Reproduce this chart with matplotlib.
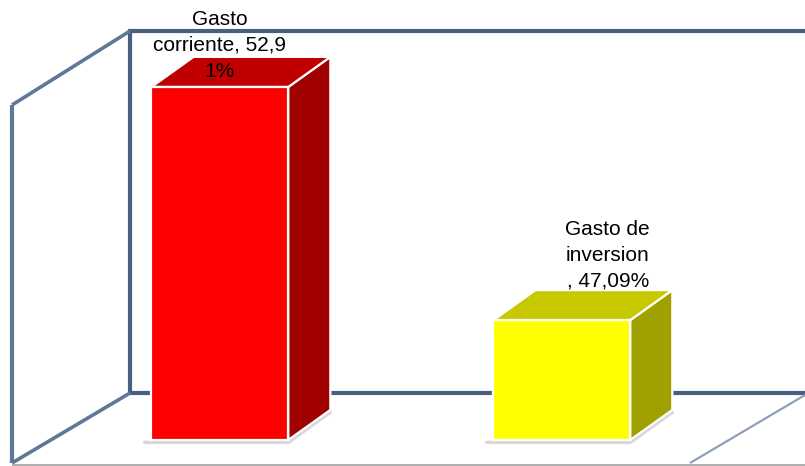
import matplotlib
matplotlib.use("Agg")
import matplotlib.pyplot as plt
from matplotlib.patches import Polygon
from matplotlib.lines import Line2D

plt.rcParams['font.family'] = ['Liberation Sans', 'DejaVu Sans']

# Data
categories = ["Gasto corriente", "Gasto de inversion"]
values = [52.91, 47.09]

# Styling
front_colors = ["#ff0000", "#ffff00"]
top_colors = ["#c00000", "#c8c800"]
side_colors = ["#a00000", "#a0a000"]
label_breaks = [[6, 15], [9, 9]]
label_offsets = [(0, 4.5), (33, 21)]  # points, relative to bar top centre

W, H = 805, 466
fig = plt.figure(figsize=(W / 100, H / 100), dpi=100)
ax = fig.add_axes([0, 0, 1, 1])
ax.axis("off")

floor = 44.1           # value at the floor of the 3D plot area
bar_w = 0.40
depth_x, depth_y = 0.123, 0.75
ax.set_xlim(-0.643, 1.711)
ax.set_ylim(43.45, 55.08)

wall_c = "#46607f"
diag_c = "#5f7898"


def px(x, y):
    return (x / W, 1 - y / H)


def frame_line(pts, color, lw, z=1):
    xs, ys = zip(*[px(*p) for p in pts])
    ax.add_line(Line2D(xs, ys, transform=ax.transAxes, color=color, lw=lw,
                       zorder=z, solid_capstyle="butt", solid_joinstyle="miter"))


# Walls and floor of the 3D frame
frame_line([(130, 393), (130, 31), (805, 31)], wall_c, 3.0)
frame_line([(130, 393), (805, 393)], wall_c, 3.0)
frame_line([(12, 463), (12, 105)], diag_c, 3.0)
frame_line([(12, 105), (130, 31)], diag_c, 2.6)
frame_line([(12, 463), (130, 393)], diag_c, 2.6)
frame_line([(690, 463), (805, 395)], "#8fa0b8", 1.6)
frame_line([(12, 464.5), (805, 464.5)], "#a0a0a0", 1.2)


def wrap(text, lengths):
    lines, pos = [], 0
    for n in lengths:
        lines.append(text[pos:pos + n].strip())
        pos += n
    lines.append(text[pos:].strip())
    return "\n".join(lines)


for i, (cat, v) in enumerate(zip(categories, values)):
    x0, x1 = i - bar_w / 2, i + bar_w / 2
    # soft base shadow
    ax.plot([x0 - 0.02, x1, x1 + depth_x], [floor - 0.06, floor - 0.06, floor + depth_y - 0.06],
            color="#d8d8d8", lw=2.5, zorder=2, solid_capstyle="round")
    front = [(x0, floor), (x1, floor), (x1, v), (x0, v)]
    top = [(x0, v), (x1, v), (x1 + depth_x, v + depth_y), (x0 + depth_x, v + depth_y)]
    side = [(x1, floor), (x1 + depth_x, floor + depth_y), (x1 + depth_x, v + depth_y), (x1, v)]
    for poly, col in ((side, side_colors[i]), (top, top_colors[i]), (front, front_colors[i])):
        ax.add_patch(Polygon(poly, closed=True, facecolor=col, edgecolor="white",
                             lw=1.6, zorder=3, joinstyle="miter"))

    pct = f"{v:.2f}".replace(".", ",")
    text = wrap(f"{cat}, {pct}%", label_breaks[i])
    ax.annotate(text, xy=(i, v), xytext=label_offsets[i], textcoords="offset points",
                ha="center", va="bottom", fontsize=15, linespacing=1.45,
                color="black", zorder=5)

fig.savefig("out.png", dpi=100)
